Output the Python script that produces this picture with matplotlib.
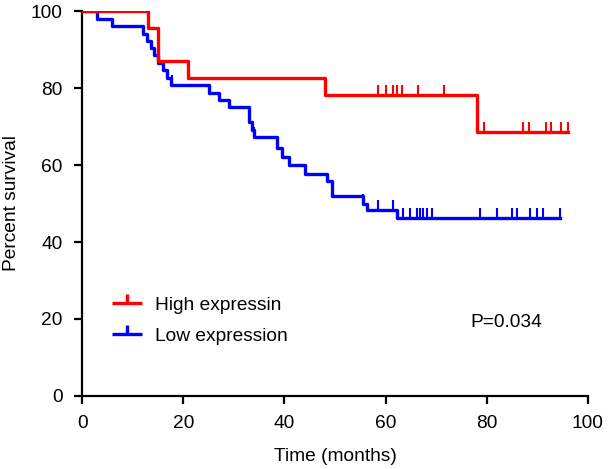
import matplotlib
matplotlib.use('Agg')
import matplotlib.pyplot as plt
from matplotlib.path import Path
from matplotlib.lines import Line2D

# Kaplan-Meier steps (time in months, percent survival)
high_times = [0, 13, 15, 21, 48, 78, 96]
high_surv = [100, 95.6, 87.0, 82.6, 78.2, 68.5, 68.5]
high_censor_t = [58.5, 60, 61.5, 62.3, 63.2, 66.4, 71.5, 79.5, 87.2, 88.3, 91.8, 92.6, 94.6, 96]
high_censor_s = [78.2] * 7 + [68.5] * 7

low_times = [0, 3, 6, 12, 12.8, 13.6, 14.2, 15, 16, 16.8, 17.6, 25, 27, 29, 33, 33.5, 34,
             38.5, 39.5, 41, 44, 48.4, 49.4, 55.5, 56.3, 62.2, 94.5]
low_surv = [100, 98.1, 96.2, 94.2, 92.3, 90.4, 88.5, 86.5, 84.6, 82.7, 80.8, 78.8, 76.9, 75.0,
            71.2, 69.2, 67.3, 64.5, 62.0, 60.0, 57.7, 55.8, 52.0, 50.0, 48.2, 46.2, 46.2]
low_censor_t = [3, 17.8, 34, 55.5, 58.5, 61.5, 63.5, 64.8, 66.2, 66.8, 67.4, 68.1, 69.1,
                78.7, 82, 85, 86, 88.5, 89.9, 91.1, 94.5]
low_censor_s = [100, 80.8, 67.3, 50.0, 48.2, 48.2] + [46.2] * 15

p_text = 'P=0.034'

plt.rcParams['font.family'] = ['Liberation Sans', 'DejaVu Sans']
fs = 13.8

fig = plt.figure(figsize=(6.08, 4.69), dpi=100)
ax = fig.add_axes([0.135, 0.156, 0.832, 0.82])

tick_h = 2.6
ax.step(high_times, high_surv, where='post', color='#ff0000', lw=2.4, zorder=3)
ax.vlines(high_censor_t, high_censor_s, [s + tick_h for s in high_censor_s],
          color='#ff0000', lw=1.5, zorder=3)
ax.step(low_times, low_surv, where='post', color='#0000ff', lw=2.4, zorder=2)
ax.vlines(low_censor_t, low_censor_s, [s + tick_h for s in low_censor_s],
          color='#0000ff', lw=1.5, zorder=2)

# legend marker: horizontal bar with a small tick pointing up
mpath = Path([(-1, 0), (1, 0), (0, 0), (0, 0.6)],
             [Path.MOVETO, Path.LINETO, Path.MOVETO, Path.LINETO])
handles = [
    Line2D([], [], ls='none', marker=mpath, markersize=22, markeredgewidth=2.4,
           color='#ff0000'),
    Line2D([], [], ls='none', marker=mpath, markersize=22, markeredgewidth=2.4,
           color='#0000ff'),
]
ax.legend(handles, ['High expressin', 'Low expression'], frameon=False,
          loc='upper left', bbox_to_anchor=(0.022, 0.303), fontsize=fs,
          handlelength=1.7, handletextpad=0.6, labelspacing=0.72)

ax.text(76.7, 19, p_text, fontsize=fs, ha='left', va='center')

ax.set_xlim(0, 100)
ax.set_ylim(0, 100)
ax.set_xticks([0, 20, 40, 60, 80, 100])
ax.set_yticks([0, 20, 40, 60, 80, 100])
for s in ['top', 'right']:
    ax.spines[s].set_visible(False)
for s in ['left', 'bottom']:
    ax.spines[s].set_linewidth(1.6)
ax.tick_params(width=1.6, length=6, labelsize=fs, pad=8)
ax.set_xlabel('Time (months)', fontsize=fs, labelpad=11)
ax.set_ylabel('Percent survival', fontsize=fs, labelpad=8)

fig.savefig('out.png', dpi=100)
